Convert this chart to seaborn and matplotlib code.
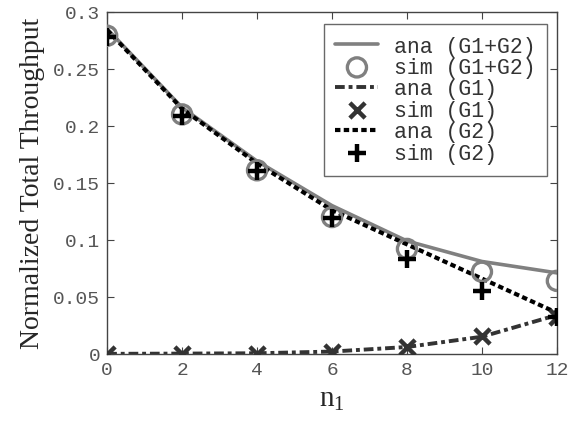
import numpy as np
import pandas as pd
import seaborn as sns
import matplotlib.pyplot as plt

n1 = [0, 2, 4, 6, 8, 10, 12]

# analytical curves
ana_total = [0.285, 0.216, 0.169, 0.130, 0.099, 0.081, 0.071]
ana_g1 = [0.0, 0.0002, 0.0005, 0.002, 0.006, 0.015, 0.034]
ana_g2 = [0.284, 0.215, 0.167, 0.126, 0.096, 0.066, 0.036]

# simulation points
sim_total = [0.279, 0.210, 0.161, 0.120, 0.092, 0.072, 0.064]
sim_g1 = [0.0, 0.0, 0.0, 0.002, 0.006, 0.016, 0.032]
sim_g2 = [0.278, 0.209, 0.160, 0.119, 0.083, 0.055, 0.032]

sns.set_style("white")
plt.rcParams['font.family'] = ['Liberation Mono', 'DejaVu Sans']
plt.rcParams['mathtext.fontset'] = 'custom'
plt.rcParams['mathtext.rm'] = 'Liberation Serif'

fig = plt.figure(figsize=(5.7, 4.27), dpi=100)
ax = fig.add_axes([0.188, 0.169, 0.789, 0.801])

grey = "#808080"
sns.lineplot(x=n1, y=ana_total, color=grey, lw=2.6, ax=ax, label="ana (G1+G2)")
sns.scatterplot(x=n1, y=sim_total, marker="o", s=190, facecolor="none",
                edgecolor=grey, linewidth=2.4, ax=ax, label="sim (G1+G2)", zorder=3)
sns.lineplot(x=n1, y=ana_g1, color="#333333", lw=2.8, ax=ax, label="ana (G1)")
ax.lines[-1].set_dashes([2.5, 1.0, 1, 1.0])
sns.scatterplot(x=n1, y=sim_g1, marker="x", s=120, color="#333333",
                linewidth=3.2, ax=ax, label="sim (G1)", zorder=4)
sns.lineplot(x=n1, y=ana_g2, color="black", lw=3, ax=ax, label="ana (G2)")
ax.lines[-1].set_dashes([1.3, 0.8])
sns.scatterplot(x=n1, y=sim_g2, marker="+", s=170, color="black",
                linewidth=3.2, ax=ax, label="sim (G2)", zorder=5)

ax.set_xlim(0, 12)
ax.set_ylim(0, 0.3)
ax.set_xticks(n1)
ax.set_yticks([0, 0.05, 0.1, 0.15, 0.2, 0.25, 0.3])
ax.set_yticklabels(["0", "0.05", "0.1", "0.15", "0.2", "0.25", "0.3"])
ax.tick_params(direction="in", length=5, color="#444444", labelcolor="#555555",
               labelsize=14, top=True, right=True, bottom=True, left=True, pad=5)
for s in ax.spines.values():
    s.set_color("#444444")
    s.set_linewidth(1)

ax.set_xlabel(r"n$_{\mathrm{1}}$", family="Liberation Serif", fontsize=21, labelpad=6)
ax.set_ylabel("Normalized Total Throughput", family="Liberation Serif",
              fontsize=20, labelpad=6)

leg = ax.legend(loc="upper right", fontsize=15.5, frameon=True, fancybox=False,
                edgecolor="#444444", handlelength=2.0, handletextpad=0.7,
                borderpad=0.55, labelspacing=0.02, borderaxespad=0,
                bbox_to_anchor=(0.978, 0.965))
leg.get_frame().set_linewidth(1)
for t in leg.get_texts():
    t.set_color("#333333")

fig.savefig("out.png", dpi=100)
